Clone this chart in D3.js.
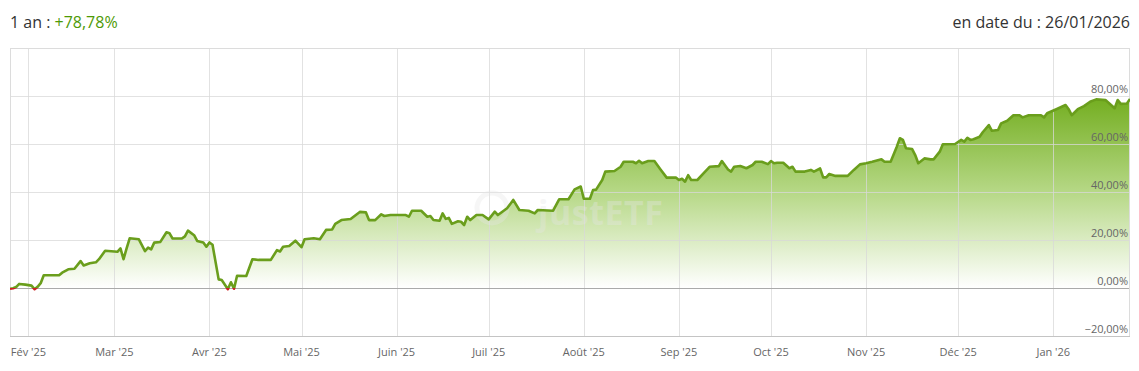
<!DOCTYPE html>
<html><head><meta charset="utf-8">
<script src="https://cdn.jsdelivr.net/npm/d3@7/dist/d3.min.js"></script>
<style>
body{margin:0;background:#fff;font-family:"Open Sans",sans-serif;}
svg{display:block;}
</style></head><body>
<svg id="c" width="1139" height="371"></svg>
<script>
const dates = ["2025-01-26","2025-01-27","2025-01-28","2025-01-29","2025-01-31",
"2025-02-02","2025-02-03","2025-02-04","2025-02-05","2025-02-06","2025-02-11","2025-02-12","2025-02-14","2025-02-16","2025-02-18","2025-02-19","2025-02-21","2025-02-23","2025-02-24","2025-02-26",
"2025-03-02","2025-03-03","2025-03-04","2025-03-05","2025-03-06","2025-03-09","2025-03-11","2025-03-12","2025-03-13","2025-03-14","2025-03-16","2025-03-18","2025-03-19","2025-03-20","2025-03-23","2025-03-24","2025-03-25","2025-03-27","2025-03-28","2025-03-30","2025-03-31",
"2025-04-01","2025-04-02","2025-04-04","2025-04-05","2025-04-07","2025-04-08","2025-04-09","2025-04-10","2025-04-13","2025-04-15","2025-04-17","2025-04-21","2025-04-23","2025-04-24","2025-04-25","2025-04-27","2025-04-29",
"2025-05-01","2025-05-02","2025-05-05","2025-05-07","2025-05-09","2025-05-11","2025-05-12","2025-05-14","2025-05-17","2025-05-20","2025-05-22","2025-05-23","2025-05-25","2025-05-27","2025-05-28","2025-05-30",
"2025-06-04","2025-06-05","2025-06-06","2025-06-09","2025-06-11","2025-06-12","2025-06-13","2025-06-15","2025-06-16","2025-06-17","2025-06-18","2025-06-19","2025-06-21","2025-06-22","2025-06-23","2025-06-24","2025-06-25","2025-06-27","2025-06-29",
"2025-07-01","2025-07-03","2025-07-04","2025-07-07","2025-07-09","2025-07-11","2025-07-14","2025-07-16","2025-07-17","2025-07-22","2025-07-24","2025-07-27","2025-07-29","2025-07-31",
"2025-08-01","2025-08-03","2025-08-04","2025-08-05","2025-08-07","2025-08-08","2025-08-11","2025-08-13","2025-08-14","2025-08-17","2025-08-18","2025-08-19","2025-08-20","2025-08-22","2025-08-24","2025-08-26","2025-08-28","2025-08-31",
"2025-09-01","2025-09-02","2025-09-03","2025-09-04","2025-09-05","2025-09-07","2025-09-09","2025-09-11","2025-09-14","2025-09-15","2025-09-17","2025-09-18","2025-09-19","2025-09-21","2025-09-23","2025-09-25","2025-09-26","2025-09-28","2025-09-30",
"2025-10-01","2025-10-02","2025-10-03","2025-10-05","2025-10-07","2025-10-08","2025-10-09","2025-10-12","2025-10-14","2025-10-15","2025-10-17","2025-10-18","2025-10-19","2025-10-20","2025-10-22","2025-10-26","2025-10-28","2025-10-30",
"2025-11-01","2025-11-03","2025-11-06","2025-11-07","2025-11-09","2025-11-11","2025-11-12","2025-11-13","2025-11-14","2025-11-16","2025-11-17","2025-11-18","2025-11-20","2025-11-22","2025-11-23","2025-11-25","2025-11-26","2025-11-30",
"2025-12-02","2025-12-03","2025-12-04","2025-12-05","2025-12-06","2025-12-08","2025-12-09","2025-12-11","2025-12-12","2025-12-14","2025-12-15","2025-12-17","2025-12-19","2025-12-21","2025-12-22","2025-12-24","2025-12-28","2025-12-29","2025-12-30",
"2026-01-02","2026-01-05","2026-01-06","2026-01-07","2026-01-09","2026-01-11","2026-01-13","2026-01-15","2026-01-18","2026-01-19","2026-01-21","2026-01-22","2026-01-23","2026-01-25","2026-01-26"];
const values = [-0.3,-0.1,0.4,1.7,1.4,
1.0,-0.5,0.5,2,5.3,5.3,6.4,7.8,8,11.2,9.4,10.3,10.7,12,15.5,
15.1,16.5,12,16.5,20.7,20.3,15.4,16.8,16.1,18.9,19.2,23.2,22.8,20.6,20.6,21.5,23.9,22,19.6,19,17.2,
19,18,3.6,3.3,-0.5,2.4,-0.3,5.1,5,12,11.7,11.7,15.8,15.2,17.2,17.5,19.7,
17,20.3,20.7,20.3,24.2,24.4,26.7,28.3,28.75,31.7,31.5,28.3,28.3,30.7,30,30.4,
30.4,29.7,32.2,32.2,29.7,30,28.3,28,31.1,28.8,29.2,26.7,27.8,27.6,26.25,29.7,28.3,30.4,30.4,
28.6,31.8,30.4,33.2,36.7,32.5,32.2,31.1,32.5,32.2,37,37,41.1,42.3,
37.2,37.2,40.8,41,45,48.5,48.75,50.5,52.6,52.6,52,53,52,52.9,52.9,49.4,46,46,
45,45.5,44.3,47,45,45,47.8,50.5,50.8,52.9,49.4,48.5,50.5,50.8,49.9,51.25,52.6,52.6,51.6,
52.9,52,52.2,52.2,49.9,50.5,48.5,48.5,49.2,48.5,49.8,46.1,46.1,47.5,46.7,46.7,49.2,51.5,
52,52.6,53.6,52.6,52.6,58.9,62.4,61.7,58.2,57.9,55.4,52,54,53.6,53.6,56.8,59.9,60,
61.7,61,62.6,61.7,62,63,64.9,67.9,65.5,65.8,68.6,69.7,72,72,71.1,72,72,71.1,72.8,
74.5,76.25,74.5,72,74.5,75.8,77.6,78.6,78.3,77.2,74.9,78.3,76.7,76.9,78.78];
const monthTicks = ["2025-02-01","2025-03-01","2025-04-01","2025-05-01","2025-06-01","2025-07-01","2025-08-01","2025-09-01","2025-10-01","2025-11-01","2025-12-01","2026-01-01"];
const monthLabels = ["Fév '25","Mar '25","Avr '25","Mai '25","Juin '25","Juil '25","Août '25","Sep '25","Oct '25","Nov '25","Déc '25","Jan '26"];
const yTicks = [-20,0,20,40,60,80];
const titleLeft = "1 an : ";
const titleValue = "+78,78%";
const titleRight = "en date du : 26/01/2026";

const parse = d3.utcParse("%Y-%m-%d");
const data = dates.map((d,i)=>({date:parse(d), v:values[i]}));
const svg = d3.select("#c");
const L=10, R=1130, T=48, B=336;
const x = d3.scaleUtc().domain([parse("2025-01-26"), parse("2026-01-26")]).range([L,R]);
const y = d3.scaleLinear().domain([-20,100]).range([B,T]);
const fmt = v => d3.format(".2f")(v).replace(".",",")+"%";

// titles
svg.append("text").attr("x",10).attr("y",28).attr("font-size",16).attr("fill","#333")
  .text(titleLeft).append("tspan").attr("fill","#4e9a06").text(titleValue);
svg.append("text").attr("x",1130).attr("y",28).attr("font-size",16).attr("fill","#333")
  .attr("text-anchor","end").text(titleRight);

const defs = svg.append("defs");
const grad = defs.append("linearGradient").attr("id","g").attr("gradientUnits","userSpaceOnUse")
  .attr("x1",0).attr("x2",0).attr("y1",y(80)).attr("y2",y(0));
grad.append("stop").attr("offset",0).attr("stop-color","#72ad1e");
grad.append("stop").attr("offset",0.5).attr("stop-color","#b6d886");
grad.append("stop").attr("offset",1).attr("stop-color","#ffffff");
defs.append("clipPath").attr("id","above").append("rect").attr("x",L).attr("y",T-10).attr("width",R-L).attr("height",y(0)-T+10);
defs.append("clipPath").attr("id","below").append("rect").attr("x",L).attr("y",y(0)).attr("width",R-L).attr("height",B-y(0));

// area
const area = d3.area().x(d=>x(d.date)).y0(y(0)).y1(d=>y(d.v));
svg.append("path").datum(data).attr("d",area).attr("fill","url(#g)");

// grid (drawn over the fill, as in the reference)
const gx = svg.append("g");
gx.selectAll("line.v").data(monthTicks).join("line")
  .attr("x1",d=>Math.round(x(parse(d)))+0.5).attr("x2",d=>Math.round(x(parse(d)))+0.5)
  .attr("y1",T).attr("y2",B).attr("stroke","#d8d8d8").attr("stroke-opacity",0.75);
gx.selectAll("line.h").data(yTicks.filter(t=>t>-20)).join("line")
  .attr("x1",L).attr("x2",R).attr("y1",d=>Math.round(y(d))+0.5).attr("y2",d=>Math.round(y(d))+0.5)
  .attr("stroke",d=>d===0?"#aaaaaa":"#d8d8d8").attr("stroke-opacity",d=>d===0?1:0.75);
svg.append("rect").attr("x",L+0.5).attr("y",T+0.5).attr("width",R-L-1).attr("height",B-T)
  .attr("fill","none").attr("stroke","#dcdcdc");
svg.append("line").attr("x1",L).attr("x2",R).attr("y1",B+0.5).attr("y2",B+0.5).attr("stroke","#c4c4c4");

// watermark
const wm = svg.append("g").attr("opacity",0.35);
wm.append("circle").attr("cx",492).attr("cy",208).attr("r",15).attr("fill","none").attr("stroke","#e6e6e6").attr("stroke-width",5);
wm.append("text").attr("x",538).attr("y",225).attr("font-size",34).attr("font-weight","bold")
  .attr("textLength",125).attr("fill","#e6e6e6").text("justETF");

// line
const line = d3.line().x(d=>x(d.date)).y(d=>y(d.v));
svg.append("path").datum(data).attr("d",line).attr("fill","none").attr("stroke","#6a9e1c")
  .attr("stroke-width",2.6).attr("stroke-linejoin","round").attr("clip-path","url(#above)");
svg.append("path").datum(data).attr("d",line).attr("fill","none").attr("stroke","#cc2222")
  .attr("stroke-width",2.6).attr("stroke-linejoin","round").attr("clip-path","url(#below)");

// y labels
svg.selectAll("text.yl").data(yTicks).join("text")
  .attr("x",1128).attr("y",d=>y(d)-3).attr("text-anchor","end")
  .attr("font-size",11).attr("fill","#666").text(fmt);

// x labels
svg.selectAll("text.xl").data(monthTicks).join("text")
  .attr("x",d=>x(parse(d))).attr("y",356).attr("text-anchor","middle")
  .attr("font-size",11).attr("fill","#666").text((d,i)=>monthLabels[i]);
</script></body></html>
